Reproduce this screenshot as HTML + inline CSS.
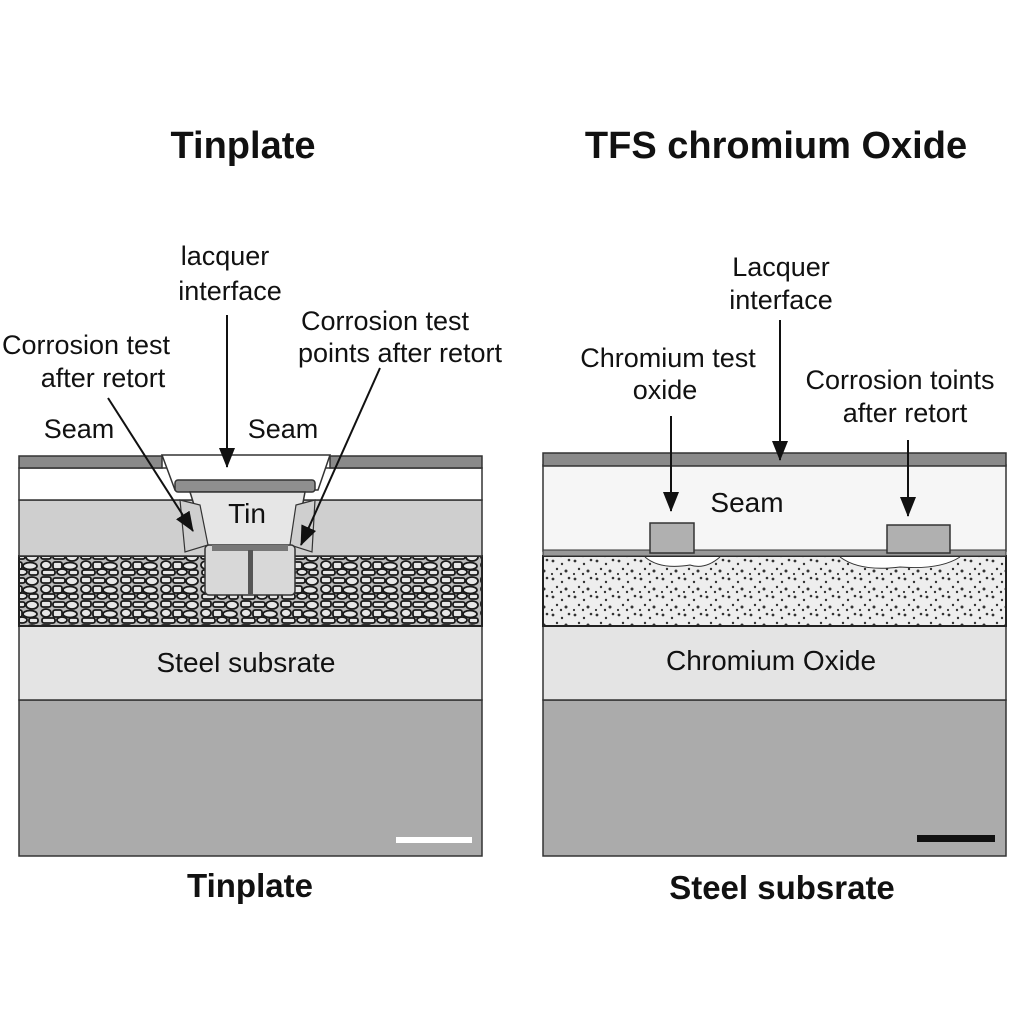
<!DOCTYPE html>
<html><head><meta charset="utf-8"><style>
html,body{margin:0;padding:0;background:#fff}
svg{display:block}
text{font-family:"Liberation Sans",sans-serif;fill:#111}
</style></head><body>
<svg width="1024" height="1024" viewBox="0 0 1024 1024" xmlns="http://www.w3.org/2000/svg">
<defs>
<pattern id="grain" width="40" height="24" patternUnits="userSpaceOnUse">
<rect width="40" height="24" fill="#bbb"/>
<g fill="#e6e6e6" stroke="#1a1a1a" stroke-width="1.8">
<rect x="1" y="1" width="10" height="6" rx="2"/>
<rect x="13" y="2" width="12" height="5" rx="2"/>
<ellipse cx="32" cy="5" rx="6" ry="4"/>
<ellipse cx="6" cy="13" rx="5" ry="4"/>
<rect x="13" y="10" width="9" height="7" rx="2"/>
<ellipse cx="30" cy="14" rx="7" ry="3.5"/>
<rect x="2" y="18" width="13" height="5" rx="2"/>
<ellipse cx="22" cy="20" rx="5" ry="3"/>
<rect x="29" y="18" width="9" height="5" rx="2"/>
</g>
</pattern>
<pattern id="dots" width="22" height="18" patternUnits="userSpaceOnUse">
<rect width="22" height="18" fill="#eee"/>
<g fill="#333">
<circle cx="3" cy="3" r="1.4"/><circle cx="12" cy="6" r="1.2"/><circle cx="19" cy="2" r="1.3"/>
<circle cx="7" cy="11" r="1.2"/><circle cx="16" cy="13" r="1.5"/><circle cx="2" cy="16" r="1.1"/>
<circle cx="11" cy="16" r="1.2"/>
</g>
</pattern>
<marker id="ah2" markerWidth="20" markerHeight="16" refX="19" refY="8" orient="auto" markerUnits="userSpaceOnUse">
<path d="M0,0 L20,8 L0,16 z" fill="#111"/>
</marker>
</defs>

<text x="243" y="158" font-size="38" font-weight="bold" text-anchor="middle">Tinplate</text>
<text x="776" y="158" font-size="38" font-weight="bold" text-anchor="middle">TFS chromium Oxide</text>

<!-- LEFT PANEL -->
<rect x="19" y="700" width="463" height="156" fill="#ababab" stroke="#333" stroke-width="1.5"/>
<rect x="19" y="626" width="463" height="74" fill="#e4e4e4" stroke="#333" stroke-width="1.5"/>
<rect x="19" y="556" width="463" height="70" fill="url(#grain)" stroke="#222" stroke-width="2"/>
<rect x="19" y="500" width="463" height="56" fill="#cfcfcf" stroke="#333" stroke-width="1.5"/>
<rect x="19" y="468" width="463" height="32" fill="#fff" stroke="#333" stroke-width="1.5"/>
<rect x="19" y="456" width="143" height="12" fill="#8a8a8a" stroke="#333" stroke-width="1.5"/>
<rect x="330" y="456" width="152" height="12" fill="#8a8a8a" stroke="#333" stroke-width="1.5"/>
<path d="M162,455 L330,455 L318,490 L175,490 Z" fill="#fff" stroke="#333" stroke-width="1.5"/>
<rect x="175" y="480" width="140" height="12" rx="3" fill="#8f8f8f" stroke="#333" stroke-width="1.5"/>
<path d="M190,492 L305,492 L296,540 L290,548 L210,548 L205,540 Z" fill="#e6e6e6" stroke="#333" stroke-width="1.5"/>
<path d="M180,500 L200,505 L208,545 L185,552 Z" fill="#cfcfcf" stroke="#333" stroke-width="1.2"/>
<path d="M315,500 L296,505 L290,545 L312,552 Z" fill="#cfcfcf" stroke="#333" stroke-width="1.2"/>
<rect x="205" y="545" width="90" height="50" rx="4" fill="#d8d8d8" stroke="#333" stroke-width="1.5"/>
<rect x="212" y="545" width="76" height="6" fill="#777"/>
<rect x="248" y="550" width="5" height="45" fill="#555"/>
<text x="247" y="523" font-size="28" text-anchor="middle">Tin</text>
<text x="246" y="672" font-size="28" text-anchor="middle">Steel subsrate</text>
<rect x="396" y="837" width="76" height="6" fill="#fff"/>
<text x="250" y="897" font-size="33" font-weight="bold" text-anchor="middle">Tinplate</text>

<text x="225" y="265" font-size="27" text-anchor="middle">lacquer</text>
<text x="230" y="300" font-size="27" text-anchor="middle">interface</text>
<text x="86" y="354" font-size="27" text-anchor="middle">Corrosion test</text>
<text x="103" y="387" font-size="27" text-anchor="middle">after retort</text>
<text x="385" y="330" font-size="27" text-anchor="middle">Corrosion test</text>
<text x="400" y="362" font-size="27" text-anchor="middle">points after retort</text>
<text x="79" y="438" font-size="27" text-anchor="middle">Seam</text>
<text x="283" y="438" font-size="27" text-anchor="middle">Seam</text>
<line x1="227" y1="315" x2="227" y2="467" stroke="#111" stroke-width="2" marker-end="url(#ah2)"/>
<line x1="108" y1="398" x2="193" y2="531" stroke="#111" stroke-width="2" marker-end="url(#ah2)"/>
<line x1="380" y1="368" x2="301" y2="545" stroke="#111" stroke-width="2" marker-end="url(#ah2)"/>

<!-- RIGHT PANEL -->
<rect x="543" y="700" width="463" height="156" fill="#ababab" stroke="#333" stroke-width="1.5"/>
<rect x="543" y="626" width="463" height="74" fill="#e4e4e4" stroke="#333" stroke-width="1.5"/>
<rect x="543" y="556" width="463" height="70" fill="url(#dots)" stroke="#222" stroke-width="2"/>
<rect x="543" y="465" width="463" height="86" fill="#f6f6f6" stroke="#333" stroke-width="1.5"/>
<rect x="543" y="550" width="463" height="6" fill="#999" stroke="#333" stroke-width="1"/>
<rect x="543" y="453" width="463" height="13" fill="#8a8a8a" stroke="#333" stroke-width="1.5"/>
<path d="M645,557 Q660,570 690,565 Q705,570 720,557" fill="#fff" stroke="#333" stroke-width="1"/>
<path d="M840,557 Q860,572 900,567 Q940,570 960,557" fill="#fff" stroke="#333" stroke-width="1"/>
<rect x="650" y="523" width="44" height="30" fill="#b0b0b0" stroke="#333" stroke-width="1.5"/>
<rect x="887" y="525" width="63" height="28" fill="#b0b0b0" stroke="#333" stroke-width="1.5"/>
<text x="747" y="512" font-size="28" text-anchor="middle">Seam</text>
<text x="771" y="670" font-size="28" text-anchor="middle">Chromium Oxide</text>
<rect x="917" y="835" width="78" height="7" fill="#111"/>
<text x="782" y="899" font-size="33" font-weight="bold" text-anchor="middle">Steel subsrate</text>

<text x="781" y="276" font-size="27" text-anchor="middle">Lacquer</text>
<text x="781" y="309" font-size="27" text-anchor="middle">interface</text>
<text x="668" y="367" font-size="27" text-anchor="middle">Chromium test</text>
<text x="665" y="399" font-size="27" text-anchor="middle">oxide</text>
<text x="900" y="389" font-size="27" text-anchor="middle">Corrosion toints</text>
<text x="905" y="422" font-size="27" text-anchor="middle">after retort</text>
<line x1="671" y1="416" x2="671" y2="511" stroke="#111" stroke-width="2" marker-end="url(#ah2)"/>
<line x1="780" y1="320" x2="780" y2="460" stroke="#111" stroke-width="2" marker-end="url(#ah2)"/>
<line x1="908" y1="440" x2="908" y2="516" stroke="#111" stroke-width="2" marker-end="url(#ah2)"/>
</svg>
</body></html>
